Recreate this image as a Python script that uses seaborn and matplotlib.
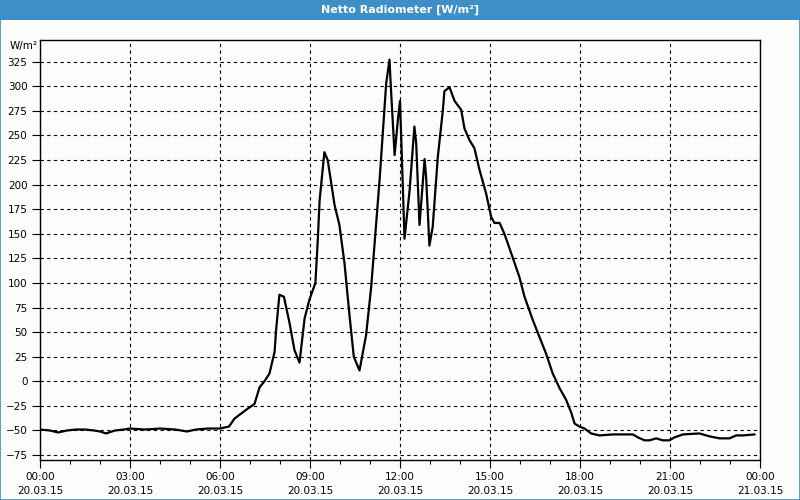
import matplotlib
matplotlib.use("Agg")
import matplotlib.pyplot as plt
from matplotlib.patches import Rectangle
from matplotlib.ticker import MultipleLocator
import seaborn as sns
import pandas as pd

# time of day in hours (20.03.15)
hours = [0.0, 0.33, 0.6, 0.9, 1.2, 1.5, 1.8, 2.0, 2.2, 2.5, 2.8, 3.0, 3.5, 4.0, 4.5, 4.9,
         5.2, 5.6, 6.0, 6.3, 6.48, 6.87, 7.15, 7.32, 7.48, 7.65, 7.82, 7.87, 7.98, 8.13,
         8.32, 8.48, 8.65, 8.82, 8.98, 9.18, 9.26, 9.32, 9.48, 9.59, 9.82, 9.98, 10.15,
         10.32, 10.46, 10.65, 10.87, 11.04, 11.32, 11.54, 11.65, 11.68, 11.82, 11.93,
         12.0, 12.06, 12.15, 12.32, 12.48, 12.54, 12.65, 12.82, 12.87, 12.98, 13.09,
         13.26, 13.43, 13.48, 13.65, 13.82, 14.04, 14.15, 14.32, 14.48, 14.65, 14.87,
         15.04, 15.15, 15.32, 15.48, 15.71, 15.98, 16.15, 16.43, 16.65, 16.87, 17.09,
         17.32, 17.54, 17.71, 17.82, 17.98, 18.15, 18.37, 18.65, 19.09, 19.76, 19.93,
         20.15, 20.32, 20.54, 20.76, 20.98, 21.15, 21.43, 21.98, 22.32, 22.65, 22.98,
         23.21, 23.43, 23.82]

# net radiation W/m²
radiation = [-49, -50, -52, -50, -49, -49, -50, -51, -53, -50, -49, -48, -49, -48, -49, -51,
             -49, -48, -48, -46, -38, -29, -23, -6, 0, 8, 30, 52, 88, 86,
             59, 32, 19, 64, 83, 100, 144, 184, 233, 225, 179, 159, 120,
             66, 25, 11, 47, 96, 205, 303, 327, 308, 230, 266,
             285, 230, 145, 194, 259, 242, 159, 226, 208, 138, 157,
             228, 276, 295, 299, 285, 276, 257, 245, 237, 215, 191,
             167, 161, 161, 150, 130, 106, 86, 62, 45, 28, 8,
             -7, -19, -32, -43, -46, -48, -53, -55, -54, -54, -57,
             -60, -60, -58, -60, -60, -57, -54, -53, -56, -58, -58,
             -55, -55, -54]

x_ticks = [0, 3, 6, 9, 12, 15, 18, 21, 24]
x_tick_labels = ["00:00\n20.03.15", "03:00\n20.03.15", "06:00\n20.03.15", "09:00\n20.03.15",
                 "12:00\n20.03.15", "15:00\n20.03.15", "18:00\n20.03.15", "21:00\n20.03.15",
                 "00:00\n21.03.15"]
y_ticks = list(range(-75, 326, 25))

title = "Netto Radiometer [W/m²]"
unit = "W/m²"

df = pd.DataFrame({"hour": hours, "value": radiation})

sns.set_style("white")
plt.rcParams["font.family"] = ["DejaVu Sans"]

bg = "#fbfdfb"
fig = plt.figure(figsize=(8, 5), dpi=100, facecolor=bg)
ax = fig.add_axes([0.05, 0.08, 0.90, 0.84])
ax.set_facecolor(bg)

sns.lineplot(data=df, x="hour", y="value", ax=ax, color="black", linewidth=1.6)

ax.set_xlim(0, 24)
ax.set_ylim(-80, 347)
ax.set_xticks(x_ticks)
ax.set_xticklabels(x_tick_labels, linespacing=1.45)
ax.xaxis.set_minor_locator(MultipleLocator(1))
ax.set_yticks(y_ticks)
ax.set_xlabel("")
ax.set_ylabel("")

ax.grid(True, which="major", color="black", linestyle=(0, (3, 3)), linewidth=0.8)
ax.tick_params(axis="both", which="major", direction="out", length=6, width=0.8,
               colors="black", labelsize=7.5, pad=3)
ax.tick_params(axis="x", which="minor", direction="out", length=3, width=0.8, colors="black")
ax.tick_params(axis="x", which="major", pad=3)
ax.tick_params(left=True, bottom=True)
ax.tick_params(axis="x", which="minor", bottom=True)
for s in ax.spines.values():
    s.set_color("black")
    s.set_linewidth(1)
    s.set_visible(True)

# title bar
fig.patches.append(Rectangle((0, 0.96), 1, 0.04, transform=fig.transFigure,
                             facecolor="#3d8fc6", edgecolor="none", zorder=0))
fig.patches.append(Rectangle((0.0006, 0.001), 0.9988, 0.998, transform=fig.transFigure,
                             facecolor="none", edgecolor="#3d8fc6", linewidth=1.2, zorder=5))
fig.text(0.5, 0.98, title, ha="center", va="center", color="white",
         fontsize=8, fontweight="bold")
fig.text(0.047, 0.908, unit, ha="right", va="center", color="black", fontsize=7.5)

fig.savefig("out.png", dpi=100, facecolor=bg)
